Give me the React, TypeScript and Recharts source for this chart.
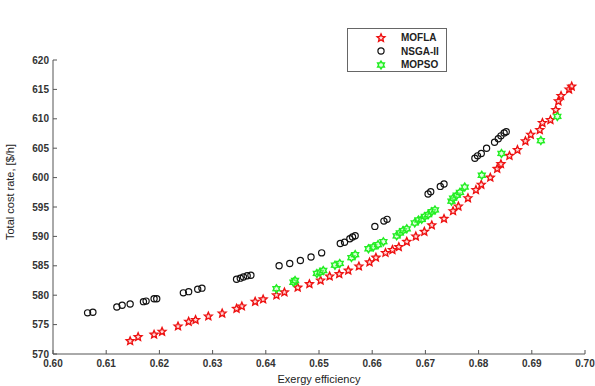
import React from 'react';
import { ScatterChart, Scatter, XAxis, YAxis, Legend } from 'recharts';

// MOFLA (red stars)
const moflaX = [0.6145, 0.616, 0.619, 0.6205, 0.6235, 0.6255, 0.6268, 0.6292, 0.6318, 0.6345, 0.6355, 0.638, 0.6395, 0.642, 0.6435, 0.646, 0.6482, 0.6503, 0.652, 0.6538, 0.6555, 0.6575, 0.6595, 0.6607, 0.6625, 0.6638, 0.665, 0.6665, 0.6682, 0.6698, 0.6712, 0.6735, 0.6752, 0.6762, 0.678, 0.6795, 0.6805, 0.6822, 0.6835, 0.6842, 0.6858, 0.6873, 0.6888, 0.6898, 0.6915, 0.692, 0.6935, 0.6945, 0.695, 0.6955, 0.697, 0.6975];
const moflaY = [572.2, 572.9, 573.3, 573.8, 574.7, 575.5, 575.8, 576.4, 576.9, 577.7, 578.1, 578.9, 579.3, 580.0, 580.5, 581.3, 581.9, 582.5, 583.2, 583.6, 584.2, 584.9, 585.6, 586.4, 587.2, 587.7, 588.2, 589.1, 590.0, 590.8, 591.9, 593.0, 594.3, 595.1, 596.5, 597.9, 598.8, 600.0, 601.5, 602.3, 603.7, 604.7, 606.2, 607.3, 608.1, 609.3, 609.8, 611.5, 613.0, 613.9, 615.0, 615.5];

// NSGA-II (black circles)
const nsgaX = [0.6065, 0.6075, 0.612, 0.613, 0.6145, 0.617, 0.6175, 0.619, 0.6195, 0.6245, 0.6255, 0.6272, 0.628, 0.6345, 0.6352, 0.6358, 0.6365, 0.6372, 0.6425, 0.6445, 0.6465, 0.6485, 0.6505, 0.654, 0.6548, 0.6558, 0.6563, 0.6568, 0.6605, 0.6622, 0.6628, 0.6705, 0.671, 0.6728, 0.6735, 0.6793, 0.6798, 0.6805, 0.6815, 0.683, 0.6837, 0.6842, 0.6848, 0.6852];
const nsgaY = [577.0, 577.1, 578.0, 578.3, 578.5, 578.9, 579.0, 579.4, 579.4, 580.4, 580.6, 581.0, 581.2, 582.7, 582.9, 583.1, 583.3, 583.4, 585.0, 585.4, 585.9, 586.5, 587.2, 588.8, 589.0, 589.6, 589.9, 590.1, 591.7, 592.6, 592.9, 597.2, 597.6, 598.5, 598.9, 603.3, 603.7, 604.1, 605.0, 606.0, 606.6, 607.1, 607.6, 607.8];

// MOPSO (green hexagrams)
const mopsoX = [0.642, 0.6452, 0.6455, 0.6496, 0.6502, 0.6508, 0.653, 0.6539, 0.6561, 0.6568, 0.6593, 0.6602, 0.6611, 0.6621, 0.6646, 0.6652, 0.6658, 0.6665, 0.668, 0.6687, 0.6693, 0.6699, 0.6705, 0.6712, 0.6718, 0.6749, 0.6752, 0.6759, 0.6765, 0.6774, 0.6806, 0.6843, 0.6917, 0.6948];
const mopsoY = [581.1, 582.2, 582.5, 583.7, 583.9, 584.2, 585.1, 585.4, 586.4, 586.9, 587.9, 588.2, 588.6, 589.1, 590.1, 590.6, 591.0, 591.3, 592.3, 592.8, 592.9, 593.4, 593.7, 594.2, 594.5, 596.0, 596.5, 597.0, 597.5, 598.4, 600.4, 604.1, 606.3, 610.4];

const xTicks = [0.6, 0.61, 0.62, 0.63, 0.64, 0.65, 0.66, 0.67, 0.68, 0.69, 0.7];
const yTicks = [570, 575, 580, 585, 590, 595, 600, 605, 610, 615, 620];

const toPoints = (xs: number[], ys: number[]) => xs.map((x, i) => ({ x, y: ys[i] }));

const moflaData = toPoints(moflaX, moflaY);
const nsgaData = toPoints(nsgaX, nsgaY);
const mopsoData = toPoints(mopsoX, mopsoY);

const RED = '#ee1111';
const GREEN = '#22ee22';
const AXIS = '#555';
const FONT = '"Liberation Sans", Arial, sans-serif';

const starPath = (cx: number, cy: number, n: number, ro: number, ri: number) => {
  let d = '';
  for (let i = 0; i < n * 2; i++) {
    const r = i % 2 === 0 ? ro : ri;
    const a = -Math.PI / 2 + (i * Math.PI) / n;
    d += (i === 0 ? 'M' : 'L') + (cx + r * Math.cos(a)).toFixed(2) + ',' + (cy + r * Math.sin(a)).toFixed(2);
  }
  return d + 'Z';
};

const Star = (props: any) => (
  <path d={starPath(props.cx, props.cy, 5, 4.1, 1.9)} fill="#ff8080" fillOpacity={0.3} stroke={RED} strokeWidth={1.4} />
);
const Ring = (props: any) => (
  <circle cx={props.cx} cy={props.cy} r={3.1} fill="none" stroke="#111" strokeWidth={1.2} />
);
const Hex = (props: any) => (
  <path d={starPath(props.cx, props.cy, 6, 3.9, 2.4)} fill="#b0ffb0" fillOpacity={0.4} stroke={GREEN} strokeWidth={1.5} />
);

const XTick = (props: any) => {
  const { x, y, payload } = props;
  return (
    <g>
      <line x1={x} y1={y} x2={x} y2={y - 4} stroke={AXIS} />
      <text x={x} y={y + 13} textAnchor="middle" fontSize={10} fontWeight="bold" fill="#333" fontFamily={FONT}>
        {payload.value.toFixed(2)}
      </text>
    </g>
  );
};

const YTick = (props: any) => {
  const { x, y, payload } = props;
  return (
    <g>
      <line x1={x} y1={y} x2={x + 4} y2={y} stroke={AXIS} />
      <text x={x - 4} y={y + 3.5} textAnchor="end" fontSize={10} fontWeight="bold" fill="#333" fontFamily={FONT}>
        {payload.value}
      </text>
    </g>
  );
};

const LegendBox = () => {
  const rows = [
    { name: 'MOFLA', icon: <Star cx={8} cy={7} /> },
    { name: 'NSGA-II', icon: <Ring cx={8} cy={7} /> },
    { name: 'MOPSO', icon: <Hex cx={8} cy={7} /> },
  ];
  return (
    <div style={{ border: '1px solid #666', background: '#fff', width: 100, height: 44, boxSizing: 'border-box', paddingTop: 2 }}>
      {rows.map((r) => (
        <div key={r.name} style={{ display: 'flex', alignItems: 'center', height: 13.5 }}>
          <svg width={16} height={14} style={{ marginLeft: 25 }}>{r.icon}</svg>
          <span style={{ marginLeft: 12, fontSize: 10, fontWeight: 'bold', fontFamily: FONT, color: '#222' }}>{r.name}</span>
        </div>
      ))}
    </div>
  );
};

export default function App() {
  return (
    <div style={{ position: 'absolute', left: 0, top: 0, width: 595, height: 386, background: '#fff' }}>
      <ScatterChart width={595} height={386} margin={{ top: 16, right: 10, bottom: 12, left: 0 }}>
        <XAxis
          type="number"
          dataKey="x"
          domain={[0.6, 0.7]}
          ticks={xTicks}
          interval={0}
          height={20}
          tickSize={0}
          tickMargin={0}
          tickLine={false}
          stroke={AXIS}
          tick={<XTick />}
          allowDataOverflow
          label={{ value: 'Exergy efficiency', position: 'insideBottom', offset: -9, fontSize: 11, fill: '#222', fontFamily: FONT }}
        />
        <YAxis
          type="number"
          dataKey="y"
          domain={[570, 620]}
          ticks={yTicks}
          interval={0}
          width={53}
          tickSize={0}
          tickMargin={0}
          tickLine={false}
          stroke={AXIS}
          tick={<YTick />}
          allowDataOverflow
          label={{ value: 'Total cost rate, [$/h]', angle: -90, position: 'insideLeft', offset: 10, dy: 33, fontSize: 11, fill: '#222', fontFamily: FONT }}
        />
        <Legend
          verticalAlign="top"
          align="left"
          wrapperStyle={{ position: 'absolute', left: 347, top: 28, width: 100 }}
          content={<LegendBox />}
        />
        <Scatter name="MOFLA" data={moflaData} shape={<Star />} isAnimationActive={false} />
        <Scatter name="NSGA-II" data={nsgaData} shape={<Ring />} isAnimationActive={false} />
        <Scatter name="MOPSO" data={mopsoData} shape={<Hex />} isAnimationActive={false} />
      </ScatterChart>
    </div>
  );
}
